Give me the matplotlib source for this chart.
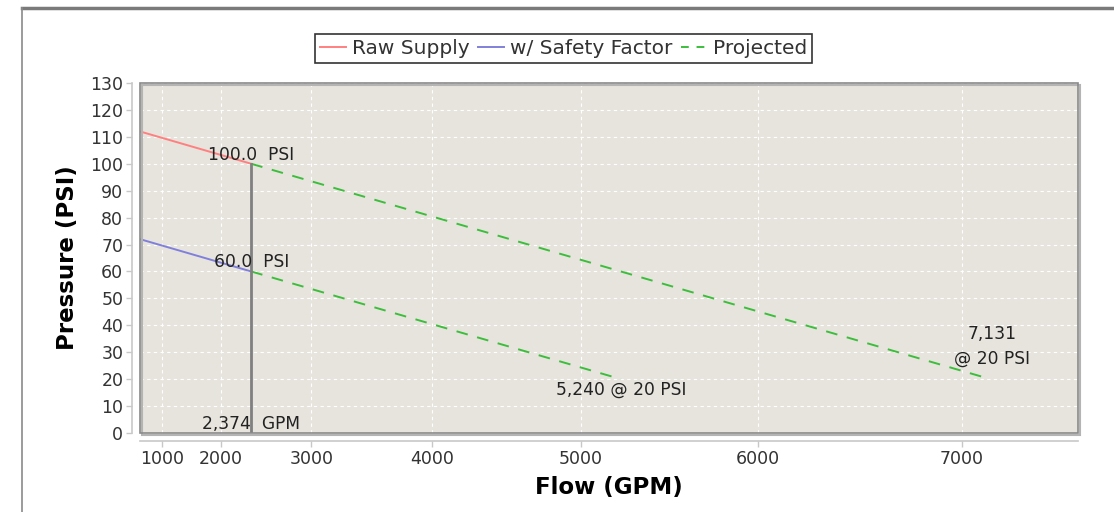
import numpy as np
import matplotlib
matplotlib.use("Agg")
from matplotlib import pyplot as plt
from matplotlib.lines import Line2D
from matplotlib.patches import Rectangle

# water supply test values
static_psi = [112, 72]          # raw, w/ safety factor
residual_psi = [100, 60]
test_flow = 2374
flow_at_20 = [7131, 5240]
target_psi = 20
series_names = ["Raw Supply", "w/ Safety Factor", "Projected"]
y_ticks = list(range(0, 131, 10))
x_ticks = [1000, 2000, 3000, 4000, 5000, 6000, 7000]

N = 1.85  # hazen-williams graph paper

def fwd(q):
    return np.sign(q) * np.abs(q) ** N

def inv(v):
    return np.sign(v) * np.abs(v) ** (1 / N)

red = "#ff8080"
blue = "#8080dc"
green = "#3cbe3c"
plotbg = "#e7e4dd"

fig = plt.figure(figsize=(11.14, 5.12), dpi=100)
ax = fig.add_axes([0.1257, 0.1543, 0.842, 0.6836])
ax.set_xscale("function", functions=(fwd, inv))
ax.set_facecolor(plotbg)

# raw supply + safety factor
ax.plot([0, test_flow], [static_psi[0], residual_psi[0]], color=red, lw=1.4)
ax.plot([0, test_flow], [static_psi[1], residual_psi[1]], color=blue, lw=1.4)
# projected
for i in range(2):
    ax.plot([test_flow, flow_at_20[i]], [residual_psi[i], target_psi],
            color=green, lw=1.4, dashes=(6, 5))

# test flow marker line
ax.plot([test_flow, test_flow], [0, residual_psi[0]], color="#808080", lw=2)

txt = dict(fontsize=12.3, color="#222222", ha="center")
ax.annotate("%.1f  PSI" % residual_psi[0], (test_flow, residual_psi[0]),
            xytext=(0, 0), textcoords="offset points", va="bottom", **txt)
ax.annotate("%.1f  PSI" % residual_psi[1], (test_flow, residual_psi[1]),
            xytext=(0, 0), textcoords="offset points", va="bottom", **txt)
ax.annotate("{:,}  GPM".format(test_flow), (test_flow, 0),
            xytext=(0, 0), textcoords="offset points", va="bottom", **txt)
ax.annotate("{:,} @ 20 PSI".format(flow_at_20[1]), (flow_at_20[1], target_psi),
            xytext=(0, -1), textcoords="offset points", va="top", **txt)
ax.annotate("{:,}\n@ 20 PSI".format(flow_at_20[0]), (flow_at_20[0], target_psi),
            xytext=(1, 8), textcoords="offset points", va="bottom",
            linespacing=1.5, **txt)

ax.set_xlim(0, 7519)
ax.set_ylim(0, 130)
ax.set_xticks(x_ticks)
ax.set_yticks(y_ticks)
ax.grid(True, color="white", ls=(0, (3, 3)), lw=0.8)
ax.set_axisbelow(True)

for s in ["top", "right"]:
    ax.spines[s].set_visible(False)
for s in ["left", "bottom"]:
    ax.spines[s].set_position(("outward", 6))
    ax.spines[s].set_color("#c8c8c8")
    ax.spines[s].set_linewidth(1.2)
ax.tick_params(length=4, width=1, color="#c8c8c8", labelsize=12.5,
               labelcolor="#333333", pad=2)

# plot frame with a bit of shadow
ax.add_patch(Rectangle((0.002, -0.005), 1, 1, transform=ax.transAxes, fill=False,
                       ec="#b4b4b4", lw=1.5, clip_on=False, zorder=5))
ax.add_patch(Rectangle((0, 0), 1, 1, transform=ax.transAxes, fill=False,
                       ec="#8a8a8a", lw=1.2, clip_on=False, zorder=6))

ax.set_ylabel("Pressure (PSI)", fontsize=16.5, fontweight="bold", labelpad=8)
ax.set_xlabel("Flow (GPM)", fontsize=16.5, fontweight="bold", labelpad=6)

handles = [Line2D([], [], color=red, lw=1.4),
           Line2D([], [], color=blue, lw=1.4),
           Line2D([], [], color=green, lw=1.4, dashes=(4, 4))]
leg = fig.legend(handles, series_names, loc="center", bbox_to_anchor=(0.506, 0.906),
                 ncol=3, fontsize=14.5, frameon=True, fancybox=False,
                 handlelength=1.3, handletextpad=0.3, columnspacing=0.4,
                 borderpad=0.25)
leg.get_frame().set_edgecolor("black")
leg.get_frame().set_linewidth(1.2)
for t in leg.get_texts():
    t.set_color("#333333")

# outer panel border
fig.add_artist(Line2D([0.02, 1.0], [0.984, 0.984], transform=fig.transFigure,
                      color="#7a7a7a", lw=2.5))
fig.add_artist(Line2D([0.0195, 0.0195], [0.0, 0.984], transform=fig.transFigure,
                      color="#8a8a8a", lw=1.2))

fig.savefig("out.png", dpi=100)
